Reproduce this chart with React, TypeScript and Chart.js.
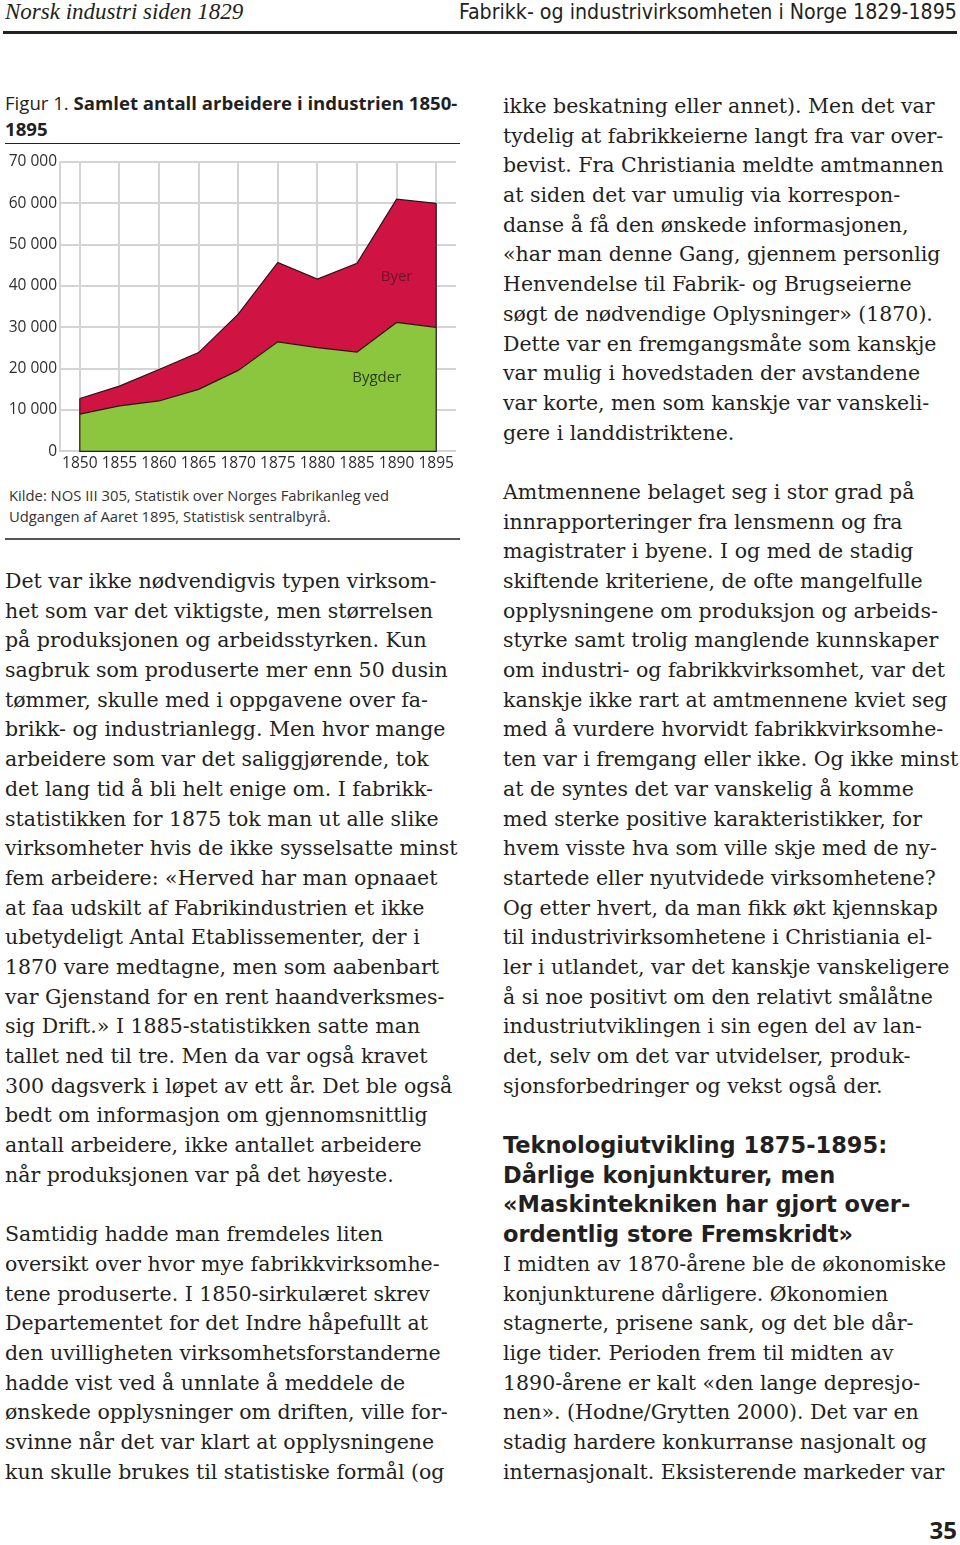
import React, { useEffect, useRef } from "react";
import { Chart, registerables } from "chart.js";

Chart.register(...registerables);

const years = ["1850", "1855", "1860", "1865", "1870", "1875", "1880", "1885", "1890", "1895"];
const bygder = [9000, 11000, 12200, 15000, 19600, 26500, 25100, 24000, 31200, 30000];
const byer = [3800, 4800, 7600, 8900, 13600, 19200, 16600, 21500, 29800, 30000];
const yMax = 70000;
const yStep = 10000;
// annotation anchors in data units (category index, value)
const byerLabel = { text: "Byer", index: 8, value: 42200 };
const bygderLabel = { text: "Bygder", index: 7.5, value: 17700 };

const leftLines = [
  "Det var ikke nødvendigvis typen virksom-",
  "het som var det viktigste, men størrelsen",
  "på produksjonen og arbeidsstyrken. Kun",
  "sagbruk som produserte mer enn 50 dusin",
  "tømmer, skulle med i oppgavene over fa-",
  "brikk- og industrianlegg. Men hvor mange",
  "arbeidere som var det saliggjørende, tok",
  "det lang tid å bli helt enige om. I fabrikk-",
  "statistikken for 1875 tok man ut alle slike",
  "virksomheter hvis de ikke sysselsatte minst",
  "fem arbeidere: «Herved har man opnaaet",
  "at faa udskilt af Fabrikindustrien et ikke",
  "ubetydeligt Antal Etablissementer, der i",
  "1870 vare medtagne, men som aabenbart",
  "var Gjenstand for en rent haandverksmes-",
  "sig Drift.» I 1885-statistikken satte man",
  "tallet ned til tre. Men da var også kravet",
  "300 dagsverk i løpet av ett år. Det ble også",
  "bedt om informasjon om gjennomsnittlig",
  "antall arbeidere, ikke antallet arbeidere",
  "når produksjonen var på det høyeste.",
  "",
  "Samtidig hadde man fremdeles liten",
  "oversikt over hvor mye fabrikkvirksomhe-",
  "tene produserte. I 1850-sirkulæret skrev",
  "Departementet for det Indre håpefullt at",
  "den uvilligheten virksomhetsforstanderne",
  "hadde vist ved å unnlate å meddele de",
  "ønskede opplysninger om driften, ville for-",
  "svinne når det var klart at opplysningene",
  "kun skulle brukes til statistiske formål (og",
];

const rightLines = [
  "ikke beskatning eller annet). Men det var",
  "tydelig at fabrikkeierne langt fra var over-",
  "bevist. Fra Christiania meldte amtmannen",
  "at siden det var umulig via korrespon-",
  "danse å få den ønskede informasjonen,",
  "«har man denne Gang, gjennem personlig",
  "Henvendelse til Fabrik- og Brugseierne",
  "søgt de nødvendige Oplysninger» (1870).",
  "Dette var en fremgangsmåte som kanskje",
  "var mulig i hovedstaden der avstandene",
  "var korte, men som kanskje var vanskeli-",
  "gere i landdistriktene.",
  "",
  "Amtmennene belaget seg i stor grad på",
  "innrapporteringer fra lensmenn og fra",
  "magistrater i byene. I og med de stadig",
  "skiftende kriteriene, de ofte mangelfulle",
  "opplysningene om produksjon og arbeids-",
  "styrke samt trolig manglende kunnskaper",
  "om industri- og fabrikkvirksomhet, var det",
  "kanskje ikke rart at amtmennene kviet seg",
  "med å vurdere hvorvidt fabrikkvirksomhe-",
  "ten var i fremgang eller ikke. Og ikke minst",
  "at de syntes det var vanskelig å komme",
  "med sterke positive karakteristikker, for",
  "hvem visste hva som ville skje med de ny-",
  "startede eller nyutvidede virksomhetene?",
  "Og etter hvert, da man fikk økt kjennskap",
  "til industrivirksomhetene i Christiania el-",
  "ler i utlandet, var det kanskje vanskeligere",
  "å si noe positivt om den relativt smålåtne",
  "industriutviklingen i sin egen del av lan-",
  "det, selv om det var utvidelser, produk-",
  "sjonsforbedringer og vekst også der.",
  "",
  "#Teknologiutvikling 1875-1895:",
  "#Dårlige konjunkturer, men",
  "#«Maskintekniken har gjort over-",
  "#ordentlig store Fremskridt»",
  "I midten av 1870-årene ble de økonomiske",
  "konjunkturene dårligere. Økonomien",
  "stagnerte, prisene sank, og det ble dår-",
  "lige tider. Perioden frem til midten av",
  "1890-årene er kalt «den lange depresjo-",
  "nen». (Hodne/Grytten 2000). Det var en",
  "stadig hardere konkurranse nasjonalt og",
  "internasjonalt. Eksisterende markeder var",
];

const SANS = "'Open Sans', 'Noto Sans', sans-serif";
const SERIF = "'DejaVu Serif', serif";
const TEXT = "#231f20";

function fmt(v: number) {
  return String(v).replace(/\B(?=(\d{3})+(?!\d))/g, " ");
}

const outlinePlugin = {
  id: "outline",
  afterDatasetsDraw(chart: any) {
    const { ctx, scales } = chart;
    const x = scales.x, y = scales.y;
    const n = years.length;
    const x0 = x.getPixelForValue(0), x1 = x.getPixelForValue(n - 1);
    const base = y.getPixelForValue(0);
    ctx.save();
    ctx.strokeStyle = "#2a1416";
    ctx.lineWidth = 1.2;
    ctx.beginPath();
    ctx.moveTo(x0, y.getPixelForValue(bygder[0] + byer[0]));
    ctx.lineTo(x0, base);
    ctx.lineTo(x1, base);
    ctx.lineTo(x1, y.getPixelForValue(bygder[n - 1] + byer[n - 1]));
    ctx.stroke();
    ctx.font = `15px ${SANS}`;
    ctx.textAlign = "center";
    ctx.textBaseline = "middle";
    ctx.fillStyle = "#6a1424";
    ctx.fillText(byerLabel.text, x.getPixelForValue(byerLabel.index), y.getPixelForValue(byerLabel.value));
    ctx.fillStyle = "#2c3a1c";
    ctx.fillText(bygderLabel.text, x.getPixelForValue(bygderLabel.index), y.getPixelForValue(bygderLabel.value));
    ctx.restore();
  },
};

function AreaChart() {
  const ref = useRef<HTMLCanvasElement>(null);
  useEffect(() => {
    if (!ref.current) return;
    const chart = new Chart(ref.current, {
      type: "line",
      data: {
        labels: years,
        datasets: [
          {
            label: "Bygder",
            data: bygder,
            backgroundColor: "#8cc63e",
            borderColor: "#2a1416",
            borderWidth: 1.2,
            pointRadius: 0,
            fill: "origin",
            tension: 0,
          },
          {
            label: "Byer",
            data: byer,
            backgroundColor: "#cf1443",
            borderColor: "#2a1416",
            borderWidth: 1.2,
            pointRadius: 0,
            fill: "-1",
            tension: 0,
          },
        ],
      },
      options: {
        animation: false,
        responsive: false,
        maintainAspectRatio: false,
        layout: { padding: { top: 22, right: 14, left: 0, bottom: 0 } },
        plugins: { legend: { display: false }, tooltip: { enabled: false } },
        scales: {
          x: {
            type: "category",
            offset: true,
            grid: { color: "#d4d4d4", lineWidth: 2, drawTicks: false, offset: false },
            border: { display: false },
            ticks: { color: "#2e2e2e", font: { family: SANS, size: 15.5 }, padding: 3, maxRotation: 0, autoSkip: false },
          },
          y: {
            stacked: true,
            min: 0,
            max: yMax,
            grid: { color: "#d4d4d4", lineWidth: 2, drawTicks: false },
            border: { display: true, color: "#d4d4d4", width: 2 },
            afterFit: (s: any) => { s.width = 60; },
            ticks: {
              stepSize: yStep,
              color: "#2e2e2e",
              font: { family: SANS, size: 15.5 },
              padding: 3,
              callback: (v: any) => fmt(Number(v)),
            },
          },
        },
      },
      plugins: [outlinePlugin],
    });
    return () => chart.destroy();
  }, []);
  return (
    <canvas
      ref={ref}
      width={470}
      height={336}
      style={{ position: "absolute", left: 0, top: 140, width: 470, height: 336 }}
    />
  );
}

function Column({ lines, left, top }: { lines: string[]; left: number; top: number }) {
  return (
    <div style={{ position: "absolute", left, top, lineHeight: "29.7px" }}>
      {lines.map((l, i) =>
        l.startsWith("#") ? (
          <div key={i} style={{ height: 29.7, whiteSpace: "nowrap", fontFamily: "'DejaVu Sans', sans-serif", fontWeight: 700, fontSize: 22.5, color: TEXT }}>
            {l.slice(1)}
          </div>
        ) : (
          <div key={i} style={{ height: 29.7, whiteSpace: "nowrap", fontFamily: SERIF, fontSize: 20.5, color: TEXT }}>
            {l || "\u00a0"}
          </div>
        )
      )}
    </div>
  );
}

export default function App() {
  return (
    <div style={{ position: "absolute", left: 0, top: 0, width: 960, height: 1545, background: "#fff", overflow: "hidden" }}>
      <div style={{ position: "absolute", left: 5, top: 0, lineHeight: "24px", fontFamily: "'Liberation Serif', serif", fontStyle: "italic", fontSize: 23, color: TEXT, whiteSpace: "nowrap" }}>
        Norsk industri siden 1829
      </div>
      <div style={{ position: "absolute", right: 3, top: 0, lineHeight: "24px", fontFamily: "'Liberation Sans Narrow', 'DejaVu Sans Condensed', sans-serif", fontStretch: "condensed", fontSize: 21.2, color: TEXT, whiteSpace: "nowrap" }}>
        Fabrikk- og industrivirksomheten i Norge 1829-1895
      </div>
      <div style={{ position: "absolute", left: 3, top: 31, width: 954, height: 2.5, background: "#222" }} />

      <div style={{ position: "absolute", left: 5, top: 90, width: 470, fontFamily: SANS, fontSize: 18.6, lineHeight: "26px", color: TEXT, whiteSpace: "nowrap" }}>
        <span style={{ fontWeight: 400 }}>Figur 1. </span>
        <span style={{ fontWeight: 700 }}>Samlet antall arbeidere i industrien 1850-<br />1895</span>
      </div>
      <div style={{ position: "absolute", left: 5, top: 142.5, width: 455, height: 1.5, background: "#222" }} />

      <AreaChart />

      <div style={{ position: "absolute", left: 9, top: 484.5, fontFamily: SANS, fontSize: 14.8, lineHeight: "21px", color: "#333", whiteSpace: "nowrap" }}>
        <div>Kilde: NOS III 305, Statistik over Norges Fabrikanleg ved</div>
        <div>Udgangen af Aaret 1895, Statistisk sentralbyrå.</div>
      </div>
      <div style={{ position: "absolute", left: 5, top: 537.5, width: 455, height: 2, background: "#555" }} />

      <Column lines={leftLines} left={5} top={567} />
      <Column lines={rightLines} left={503} top={92} />

      <div style={{ position: "absolute", right: 3, top: 1518, lineHeight: "24px", fontFamily: SANS, fontWeight: 700, fontSize: 24, color: TEXT }}>35</div>
    </div>
  );
}
